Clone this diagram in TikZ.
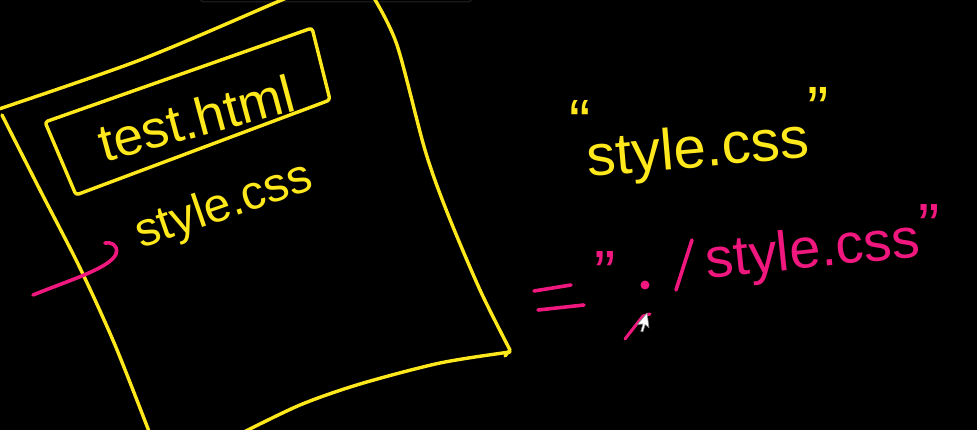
\documentclass[tikz,border=0pt]{standalone}
\usepackage{fontspec}
\setmainfont{Liberation Sans}
\definecolor{hy}{HTML}{FFE81C}
\definecolor{hp}{HTML}{F0187E}
\begin{document}
\begin{tikzpicture}[x=1pt,y=-1pt,
  ystroke/.style={draw=hy,line width=3.4pt,line cap=round,line join=round},
  pstroke/.style={draw=hp,line width=3.6pt,line cap=round,line join=round},
  ytext/.style={text=hy,inner sep=0pt},
  ptext/.style={text=hp,inner sep=0pt}]
\fill[black] (0,0) rectangle (977,430);
\useasboundingbox (0,0) rectangle (977,430);
% faint UI element at top
\draw[draw=white!14!black,line width=1pt,rounded corners=4pt] (200,-12) -- (200,2) -- (472,2) -- (472,-12);
% outer sheet
\draw[ystroke] plot[smooth] coordinates {(-4,110) (140,60) (277,2) (300,-8)};
\draw[ystroke] plot[smooth] coordinates {(374,-2) (397,45) (425,150) (447,212) (480,290) (510,350)}
  -- (505,356);
\draw[ystroke] plot[smooth] coordinates {(510,352) (440,363) (360,384) (300,405) (240,434)};
\draw[ystroke] plot[smooth] coordinates {(2,115) (40,190) (80,268) (115,345) (150,434)};
% inner box
\draw[ystroke,rounded corners=3pt] (45,122) -- (312,28) -- (330,100) -- (76,195) -- cycle;
\node[ytext,font=\fontsize{53}{53}\selectfont,rotate=15] (html) at (196,118) {test.html};
\node[ytext,font=\fontsize{48}{48}\selectfont,rotate=19] (css) at (224,207) {style.css};
% pink hook
\draw[pstroke] (33,295) .. controls (70,280) and (110,268) .. (116,254) .. controls (119,244) and (110,242) .. (105,243);
% right yellow text
\node[ytext,font=\fontsize{58}{58}\selectfont,rotate=5] (q) at (698,152) {style.css};
\node[ytext,font=\fontsize{64}{64}\selectfont] (q1) at (580,122) {“};
\node[ytext,font=\fontsize{64}{64}\selectfont] (q2) at (818,109) {”};
% pink equation
\draw[pstroke] (534,291) -- (571,285);
\draw[pstroke] (538,310) -- (584,305);
\node[ptext,font=\fontsize{64}{64}\selectfont] (p1) at (605,273) {"};
\fill[hp] (645,285) circle (4.5pt);
\draw[pstroke] (676,290) -- (692,240);
\node[ptext,font=\fontsize{56}{56}\selectfont,rotate=6] (p) at (813,253) {style.css};
\node[ptext,font=\fontsize{64}{64}\selectfont] (p2) at (929,226) {"};
% pen stroke near cursor
\draw[pstroke,line width=3pt] (625,339) -- (643,316) -- (650,314);
% mouse cursor
\draw[fill=white,draw=gray,line width=0.6pt,rotate around={-40:(647,313)}] (647,313) -- (647,328) -- (651,324) -- (654,331) -- (656,330) -- (653,323) -- (658,323) -- cycle;
\end{tikzpicture}
\end{document}
